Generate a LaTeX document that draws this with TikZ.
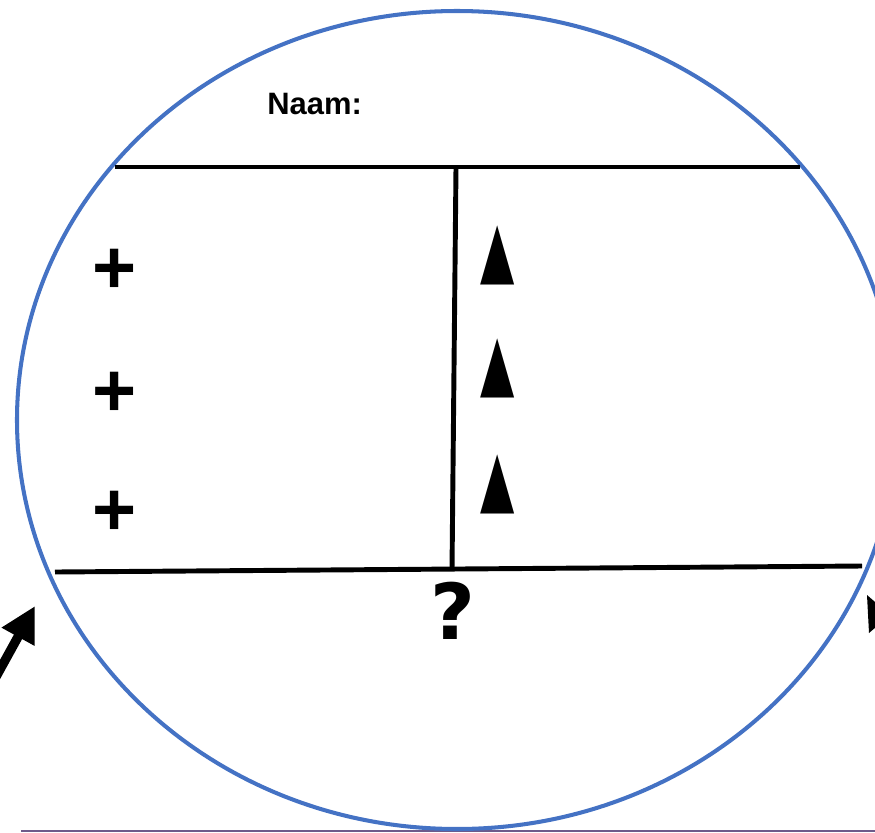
\documentclass[tikz,border=0pt]{standalone}
\usepackage{fontspec}
\setmainfont{Liberation Sans}
\newfontfamily\symfont{DejaVu Sans}
\usepackage{xcolor}
\usetikzlibrary{arrows.meta}
\definecolor{ringblue}{HTML}{4472C4}
\definecolor{footgray}{HTML}{6E5A8A}

\begin{document}
\begin{tikzpicture}[x=0.02cm, y=-0.02cm,
                    frame/.style={line width=2.8pt},
                    ring/.style={draw=ringblue, line width=2.3pt},
                    pluslabel/.style={inner sep=0pt, font=\bfseries\fontsize{43}{43}\selectfont},
                    trilabel/.style={inner sep=0pt},
                    asklabel/.style={inner sep=0pt, font=\symfont\bfseries\fontsize{44}{44}\selectfont}]
  \useasboundingbox (0,0) rectangle (875,832);
  \clip (0,0) rectangle (875,832);
  \draw[footgray, line width=0.9pt] (21,831) -- (880,831);
  \draw[ring] (457,420) ellipse [x radius=440, y radius=409];
  \node[anchor=base west, inner sep=0pt, font=\bfseries\fontsize{17.6}{17.6}\selectfont] (name) at (267,114) {Naam:};
  \coordinate (topL) at (115,167);
  \coordinate (topR) at (800,167);
  \coordinate (midT) at (456,167);
  \coordinate (midB) at (452,570);
  \coordinate (botL) at (55,572);
  \coordinate (botR) at (862,566);
  \draw[frame] (topL) -- (topR);
  \draw[frame] (midT) -- (midB);
  \draw[frame] (botL) -- (botR);
  \node[pluslabel] (plus1) at (115,271) {+};
  \node[pluslabel] (plus2) at (115,394) {+};
  \node[pluslabel] (plus3) at (115,513) {+};
  \node[trilabel] (tri1) at (498,255) {\resizebox{19.5pt}{28.3pt}{\symfont ▲}};
  \node[trilabel] (tri2) at (498,368) {\resizebox{19.5pt}{28.3pt}{\symfont ▲}};
  \node[trilabel] (tri3) at (498,484) {\resizebox{19.5pt}{28.3pt}{\symfont ▲}};
  \node[asklabel] (ask) at (453,611) {?};
  \coordinate (inTail) at (-19,704);
  \coordinate (inTip) at (35,606);
  \draw[line width=5.3pt, -{Triangle[length=20pt, width=20pt]}] (inTail) -- (inTip);
  \fill (867,595) -- (890,615) -- (869,633) -- cycle;
\end{tikzpicture}
\end{document}
